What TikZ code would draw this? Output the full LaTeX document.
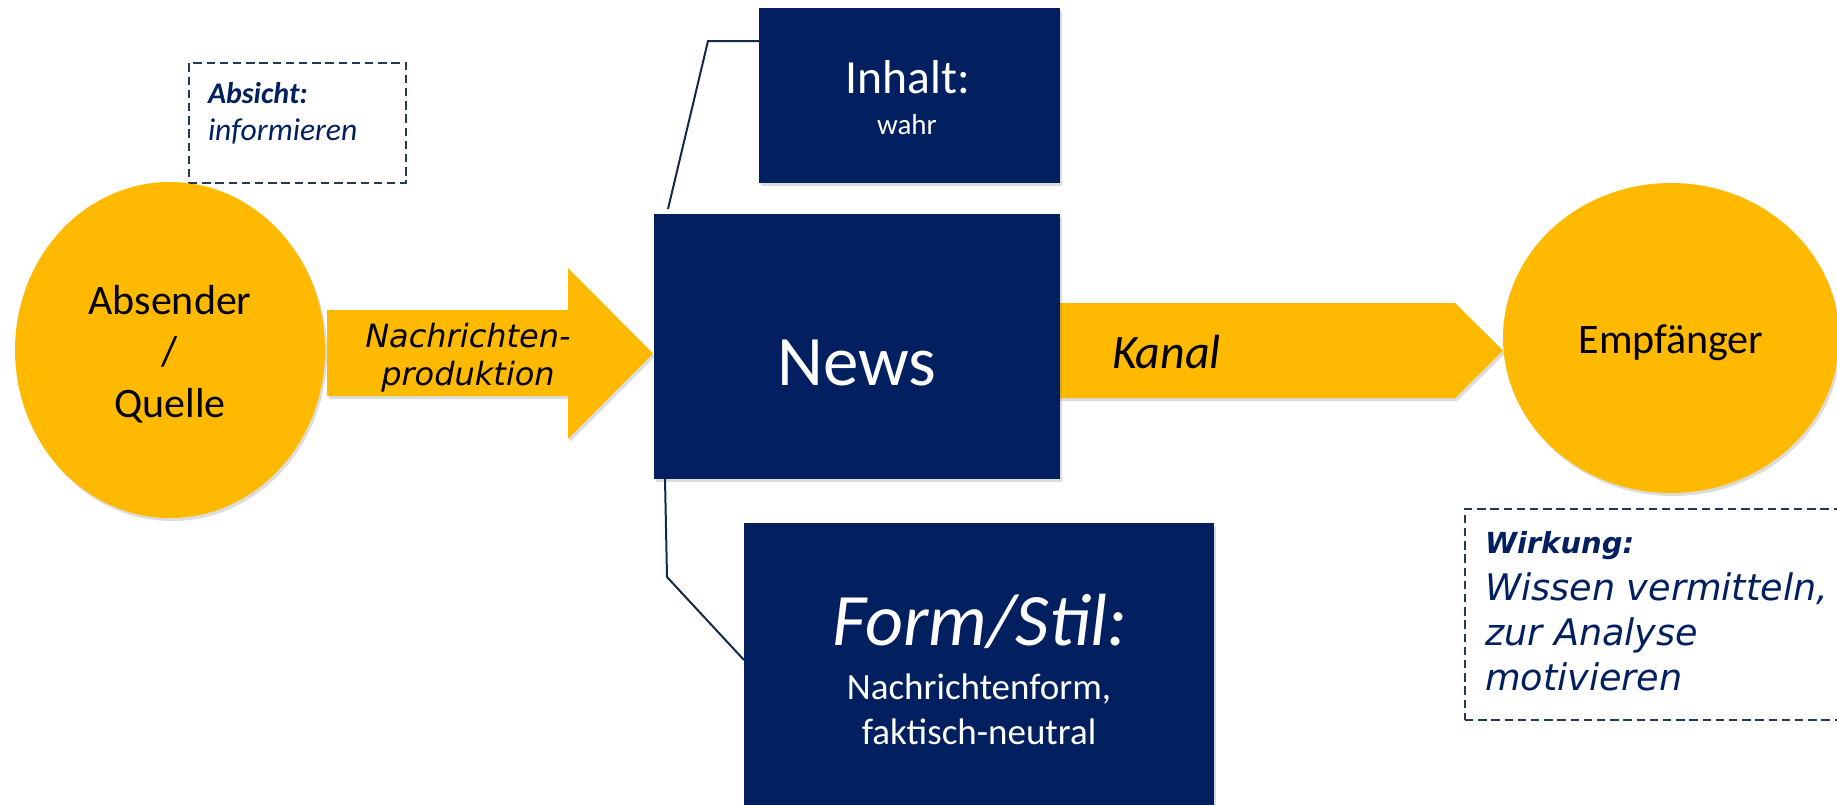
\documentclass[tikz,border=0pt]{standalone}
\usepackage{fontspec}
\setmainfont{Carlito}
\newfontfamily\verd{DejaVu Sans}[BoldFont={DejaVu Sans Bold},ItalicFont={DejaVu Sans Oblique},BoldItalicFont={DejaVu Sans Bold Oblique}]
\usetikzlibrary{shapes.geometric,shadows,calc}
\definecolor{navy}{HTML}{022060}
\definecolor{gold}{HTML}{FFBA00}
\definecolor{dashc}{HTML}{253858}
\definecolor{linec}{HTML}{14284B}
\tikzset{
  sh/.style={drop shadow={opacity=0.28,shadow xshift=1pt,shadow yshift=-1.5pt}},
  goldshape/.style={fill=gold,draw=none,sh},
  goldell/.style={ellipse,fill=gold,draw=none,inner sep=0pt,outer sep=0pt,sh},
  navybox/.style={rectangle,fill=navy,draw=none,inner sep=0pt,outer sep=0pt,sh},
  dashbox/.style={rectangle,draw=dashc,line width=1pt,dash pattern=on 4.2pt off 2.4pt,inner sep=0pt,outer sep=0pt},
  conn/.style={draw=linec,line width=1pt},
  txt/.style={anchor=base,inner sep=0pt,outer sep=0pt},
  txtl/.style={anchor=base west,inner sep=0pt,outer sep=0pt},
}
\begin{document}
\begin{tikzpicture}[x=0.5pt,y=-0.5pt]
\useasboundingbox (0,0) rectangle (1837,804);
% sender
\node[goldell,minimum width=155pt,minimum height=168pt] (sender) at (170,350) {};
\node[txt,font=\fontsize{21pt}{25pt}\selectfont] (s1) at (170,314) {Absender};
\node[txt,font=\fontsize{21pt}{25pt}\selectfont] (s2) at (170,365.5) {/};
\node[txt,font=\fontsize{21pt}{25pt}\selectfont] (s3) at (170,417) {Quelle};
% intention box
\node[dashbox,minimum width=108.5pt,minimum height=60pt] (absicht) at (297.5,123) {};
\node[txtl,text=navy,font=\bfseries\itshape\fontsize{15pt}{18pt}\selectfont] (a1) at (208,103) {Absicht:};
\node[txtl,text=navy,font=\itshape\fontsize{15.8pt}{18pt}\selectfont] (a2) at (208,140) {informieren};
% arrows
\fill[goldshape] (327,310) -- (568,310) -- (568,268) -- (653,353.5) -- (568,439) -- (568,396) -- (327,396) -- cycle;
\node[txt,font=\verd\itshape\fontsize{16pt}{19pt}\selectfont] (p1) at (468,347) {Nachrichten-};
\node[txt,font=\verd\itshape\fontsize{16pt}{19pt}\selectfont] (p2) at (468,385) {produktion};
\fill[goldshape] (1058,303) -- (1455,303) -- (1503,350.5) -- (1455,398) -- (1058,398) -- cycle;
\node[txtl,font=\itshape\fontsize{24pt}{29pt}\selectfont] (kanal) at (1112,368) {Kanal};
% receiver
\node[goldell,minimum width=168pt,minimum height=155pt] (recv) at (1671,338) {};
\node[txt,font=\fontsize{21pt}{25pt}\selectfont] (r1) at (1671,353) {Empfänger};
% effect box
\node[dashbox,minimum width=190pt,minimum height=105.5pt] (wirkung) at (1655,614.5) {};
\node[txtl,text=navy,font=\verd\bfseries\itshape\fontsize{14.5pt}{17pt}\selectfont] (w0) at (1485,553) {Wirkung:};
\node[txtl,text=navy,font=\verd\itshape\fontsize{18.3pt}{22pt}\selectfont] (w1) at (1485,600) {Wissen vermitteln,};
\node[txtl,text=navy,font=\verd\itshape\fontsize{18.3pt}{22pt}\selectfont] (w2) at (1485,645) {zur Analyse};
\node[txtl,text=navy,font=\verd\itshape\fontsize{18.3pt}{22pt}\selectfont] (w3) at (1485,690) {motivieren};
% boxes
\node[navybox,minimum width=203pt,minimum height=132.5pt] (news) at (857,346.5) {};
\node[txt,text=white,font=\fontsize{35.5pt}{42pt}\selectfont] (n1) at (857,385) {News};
\node[navybox,minimum width=150.5pt,minimum height=87.5pt] (inhalt) at (909.5,95.5) {};
\node[txt,text=white,font=\fontsize{23.8pt}{28pt}\selectfont] (i1) at (908,93) {Inhalt:};
\node[txt,text=white,font=\fontsize{14.5pt}{17pt}\selectfont] (i2) at (907,134) {wahr};
\node[navybox,minimum width=235pt,minimum height=153.5pt] (form) at (979,676.5) {};
\node[txt,text=white,font=\itshape\fontsize{37pt}{43pt}\selectfont] (f1) at (980,645) {Form/Stil:};
\node[txt,text=white,font=\fontsize{18.5pt}{22pt}\selectfont] (f2) at (979,699) {Nachrichtenform,};
\node[txt,text=white,font=\fontsize{18.5pt}{22pt}\selectfont] (f3) at (979,744) {faktisch-neutral};
% connectors
\coordinate (tb) at (708,41);
\draw[conn] ($(news.north west)+(14,-5)$) -- (tb) -- (inhalt.west |- tb);
\coordinate (bb) at (667,577);
\draw[conn] ($(news.south west)+(11,0)$) -- (bb) -- ($(form.north west)+(0,137)$);
\end{tikzpicture}
\end{document}
